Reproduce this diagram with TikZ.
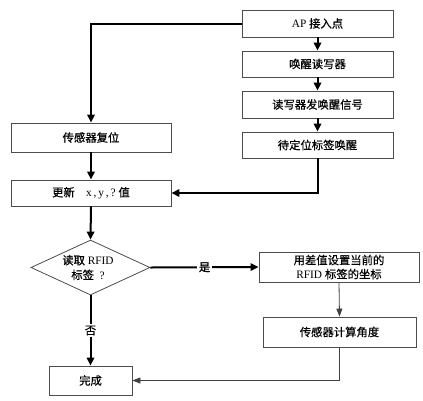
\documentclass[tikz,border=0pt]{standalone}
\usepackage{fontspec}
\setmainfont{Liberation Serif}
\newfontfamily\cjk{Noto Sans CJK SC}[FakeBold=0.6]
\usetikzlibrary{arrows.meta,shapes.geometric}
\tikzset{
  box/.style={draw=black!70,line width=0.6pt,rectangle,inner sep=0pt,font=\fontsize{8.5}{10.5}\selectfont},
  thickarrow/.style={line width=1.5pt,-{Triangle[length=6pt,width=5.5pt]}},
  thinarrow/.style={line width=0.6pt,draw=black!75,-{Triangle[length=6pt,width=4.5pt]}},
  lbl/.style={fill=white,inner sep=1.5pt,font=\fontsize{8.5}{10}\selectfont}
}
\begin{document}
\begin{tikzpicture}[x=0.75pt,y=-0.75pt]
\useasboundingbox (0,0) rectangle (423,400);
\node[box,minimum width=113.25pt,minimum height=20.25pt] (ap) at (317.5,23.5) {AP\ \cjk 接入点};
\node[box,minimum width=113.25pt,minimum height=19.5pt] (wake) at (317.5,64) {\cjk 唤醒读写器};
\node[box,minimum width=113.25pt,minimum height=20.25pt] (send) at (317.5,104.5) {\cjk 读写器发唤醒信号};
\node[box,minimum width=113.25pt,minimum height=19.5pt] (tag) at (317.5,145) {\cjk 待定位标签唤醒};
\node[box,minimum width=120pt,minimum height=21.75pt] (reset) at (91,137.5) {\cjk 传感器复位\hspace{8pt}};
\node[box,minimum width=120pt,minimum height=19.5pt] (upd) at (91,193) {\cjk 更新\quad\rmfamily x\,,\,y\,,\,?\ \cjk 值};
\node[draw=black!70,line width=0.6pt,diamond,inner sep=0pt,minimum width=89.25pt,minimum height=41.25pt] (dia) at (90.5,267.5) {};
\node[font=\fontsize{8.5}{11}\selectfont,align=center] (diat) at (88,267.5) {{\cjk 读取}\ RFID\\{\cjk 标签}\ \ ?};
\node[box,minimum width=120pt,minimum height=22.5pt,align=center] (set) at (339,267) {{\cjk 用差值设置当前的}\\RFID\ {\cjk 标签的坐标}};
\node[box,minimum width=114.75pt,minimum height=22.5pt] (calc) at (339.5,332) {\cjk 传感器计算角度};
\node[box,minimum width=62.25pt,minimum height=21.75pt] (done) at (90.5,380.5) {\cjk 完成};
\draw[thickarrow] (ap.west) -| (reset.north);
\draw[thickarrow] (ap.south) -- (wake.north);
\draw[thickarrow] (wake.south) -- (send.north);
\draw[thickarrow] (send.south) -- (tag.north);
\draw[thickarrow] (tag.south) |- (upd.east);
\draw[thickarrow] (reset.south) -- (upd.north);
\draw[thickarrow] (upd.south) -- (dia.north);
\draw[thickarrow] (dia.east) -- node[lbl] {\cjk 是} (set.west);
\draw[thickarrow] (dia.south) -- node[lbl] {\cjk 否} (done.north);
\draw[thinarrow] (set.south) -- (calc.north);
\draw[thinarrow] (calc.south) |- (done.east);
\end{tikzpicture}
\end{document}
